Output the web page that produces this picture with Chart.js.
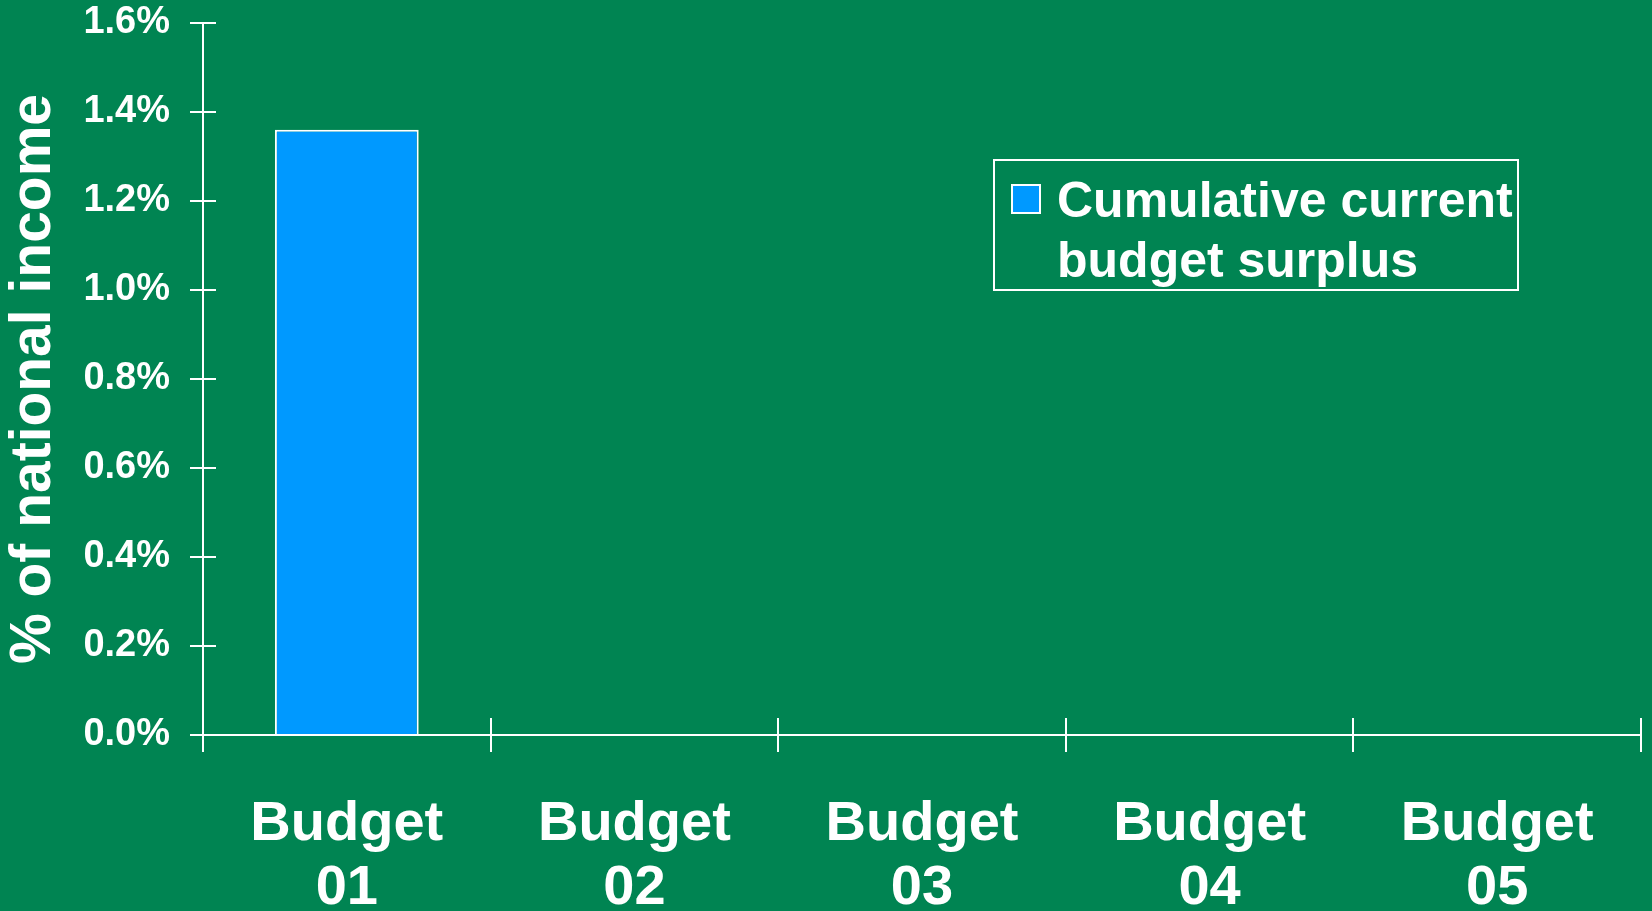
<!DOCTYPE html>
<html>
<head>
<meta charset="utf-8">
<script src="https://cdn.jsdelivr.net/npm/chart.js@4/dist/chart.umd.min.js"></script>
<style>
  html, body { margin: 0; padding: 0; background: #008452; }
  #wrap { width: 1652px; height: 911px; }
</style>
</head>
<body>
<div id="wrap"><canvas id="chart" width="1652" height="911"></canvas></div>
<script>
const categories = [['Budget', '01'], ['Budget', '02'], ['Budget', '03'], ['Budget', '04'], ['Budget', '05']]
const surplus = [1.36, null, null, null, null]
const seriesLabel = ['Cumulative current', 'budget surplus']
const yTicks = [0, 0.2, 0.4, 0.6, 0.8, 1.0, 1.2, 1.4, 1.6]

const FONT = "'Liberation Sans', Arial, sans-serif"
const WHITE = '#ffffff'
const BAR = '#0099ff'

// tick marks in the reference cross the axis line, chart.js only draws the outer half
const crossTicks = {
  id: 'crossTicks',
  afterDatasetsDraw(chart) {
    const ctx = chart.ctx
    const x = chart.scales.x, y = chart.scales.y
    ctx.save()
    ctx.strokeStyle = WHITE
    ctx.lineWidth = 2
    ctx.beginPath()
    yTicks.forEach(v => {
      const py = Math.round(y.getPixelForValue(v))
      ctx.moveTo(x.left, py)
      ctx.lineTo(x.left + 13, py)
    })
    for (let i = 0; i <= categories.length; i++) {
      const px = Math.round(x.getPixelForValue(i - 0.5))
      ctx.moveTo(px, y.bottom)
      ctx.lineTo(px, y.bottom - 17)
    }
    ctx.stroke()
    ctx.restore()
  }
}

// boxed legend with wrapped text
const boxLegend = {
  id: 'boxLegend',
  afterDraw(chart) {
    const ctx = chart.ctx
    const ds = chart.data.datasets[0]
    ctx.save()
    ctx.strokeStyle = WHITE
    ctx.lineWidth = 2
    ctx.strokeRect(994, 160, 524, 130)
    ctx.fillStyle = ds.backgroundColor
    ctx.fillRect(1012, 185, 28, 28)
    ctx.strokeRect(1012, 185, 28, 28)
    ctx.fillStyle = WHITE
    ctx.font = 'bold 50px ' + FONT
    ctx.textBaseline = 'alphabetic'
    ctx.textAlign = 'left'
    seriesLabel.forEach((t, i) => ctx.fillText(t, 1057, 217 + i * 60))
    ctx.restore()
  }
}

new Chart(document.getElementById('chart').getContext('2d'), {
  type: 'bar',
  data: {
    labels: categories,
    datasets: [{
      label: seriesLabel.join(' '),
      data: surplus,
      backgroundColor: BAR,
      borderColor: WHITE,
      borderWidth: 2,
      barPercentage: 0.5,
      categoryPercentage: 1.0
    }]
  },
  options: {
    responsive: false,
    animation: false,
    layout: { padding: { top: 23, right: 11, left: 0, bottom: 0 } },
    plugins: {
      legend: { display: false },
      tooltip: { enabled: false }
    },
    scales: {
      x: {
        afterFit: s => { s.height = 176 },
        grid: {
          offset: true,
          drawOnChartArea: false,
          color: WHITE,
          lineWidth: 2,
          tickLength: 17
        },
        border: { display: true, color: WHITE, width: 2 },
        ticks: {
          color: WHITE,
          padding: 40,
          maxRotation: 0,
          font: { family: FONT, size: 56, weight: 'bold', lineHeight: 1.15 }
        }
      },
      y: {
        min: 0,
        max: 1.6,
        afterFit: s => {
          s.width = 203
          s.paddingTop = 0
          s.paddingBottom = 0
        },
        afterBuildTicks: s => { s.ticks = yTicks.map(v => ({ value: v })) },
        grid: {
          drawOnChartArea: false,
          color: WHITE,
          lineWidth: 2,
          tickLength: 13
        },
        border: { display: true, color: WHITE, width: 2 },
        ticks: {
          color: WHITE,
          padding: 20,
          font: { family: FONT, size: 38, weight: 'bold' },
          callback: v => v.toFixed(1) + '%'
        },
        title: {
          display: true,
          text: '% of national income',
          color: WHITE,
          padding: 0,
          font: { family: FONT, size: 57, weight: 'bold' }
        }
      }
    }
  },
  plugins: [crossTicks, boxLegend]
})
</script>
</body>
</html>
